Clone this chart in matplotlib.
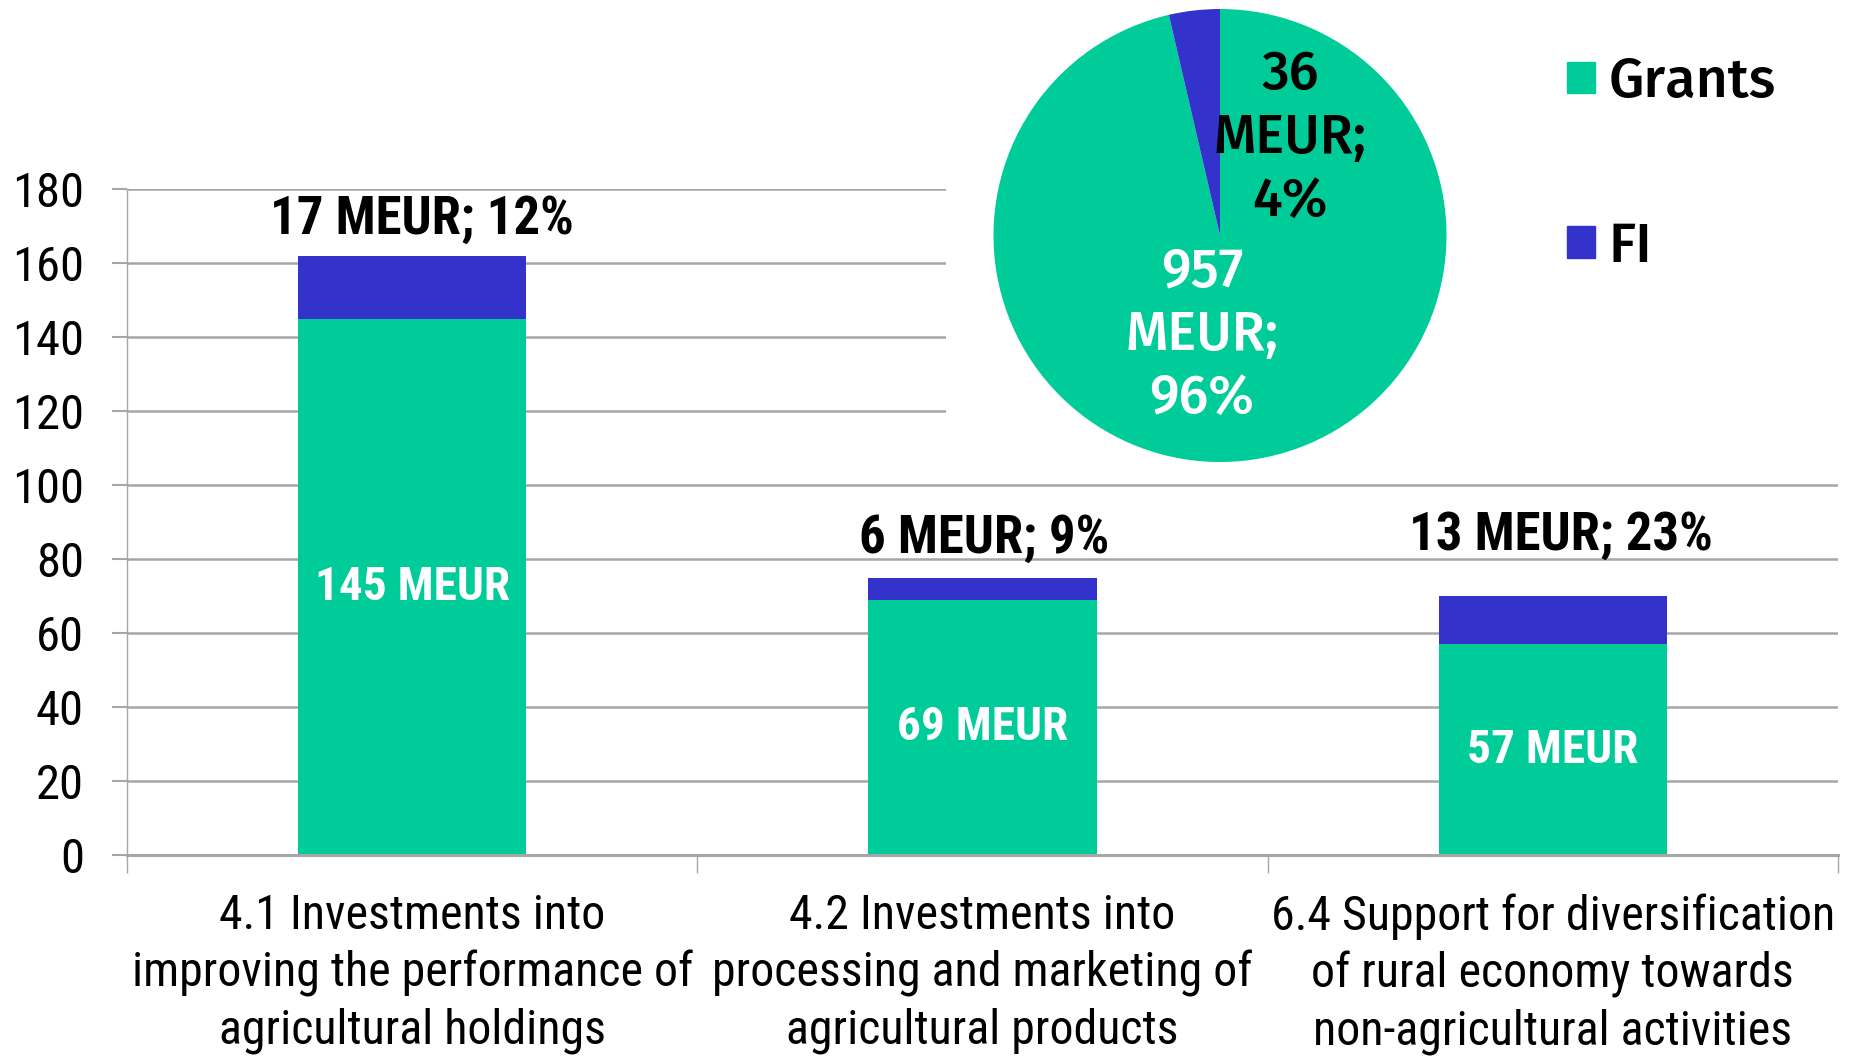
import matplotlib
matplotlib.use("Agg")
import matplotlib.pyplot as plt
from matplotlib.patches import Patch

# bar chart data (MEUR)
categories = ["4.1 Investments into\nimproving the performance of\nagricultural holdings",
              "4.2 Investments into\nprocessing and marketing of\nagricultural products",
              "6.4 Support for diversification\nof rural economy towards\nnon-agricultural activities"]
grants = [145, 69, 57]
fi = [17, 6, 13]
fi_share = [12, 9, 23]

# pie data (MEUR)
pie_names = ["Grants", "FI"]
pie_values = [957, 36]
pie_share = [96, 4]

yticks = [0, 20, 40, 60, 80, 100, 120, 140, 160, 180]

GREEN = "#00CC99"
BLUE = "#3333CC"
GRID = "#A6A6A6"
COND = "Roboto Condensed"
PIEFONT = "Fira Sans"

W, H = 1850, 1056
fig = plt.figure(figsize=(W / 100, H / 100), dpi=100)

# --- stacked bars ---
ax = fig.add_axes([127 / W, 1 - 855 / H, (1838 - 127) / W, (855 - 189) / H])
x = range(len(categories))
ax.bar(x, grants, width=0.4, color=GREEN, zorder=2)
ax.bar(x, fi, width=0.4, bottom=grants, color=BLUE, zorder=2)
ax.set_xlim(-0.5, len(categories) - 0.5)
ax.set_ylim(0, 180)
ax.set_yticks(yticks)
ax.set_yticklabels([str(t) for t in yticks], family=COND, fontsize=35)
ax.tick_params(axis="y", length=11, width=1.5, color=GRID, pad=20)
ax.grid(axis="y", color=GRID, linewidth=1.8, zorder=0)

# category boundaries get the ticks, names sit in the middle
ax.set_xticks([i - 0.5 for i in range(len(categories) + 1)])
ax.set_xticklabels([])
ax.tick_params(axis="x", length=13, width=1, color=GRID)
for i, name in enumerate(categories):
    ax.text(i, -0.057, name, transform=ax.get_xaxis_transform(), ha="center", va="top",
            family=COND, fontsize=34.5, linespacing=1.3)

for side in ["top", "right"]:
    ax.spines[side].set_visible(False)
ax.spines["left"].set_color(GRID)
ax.spines["left"].set_linewidth(1)
ax.spines["bottom"].set_color(GRID)
ax.spines["bottom"].set_linewidth(2.2)

# label nudges (points), as Excel left them
label_offsets = [(7, 26), (1, 28), (6, 44)]
for i in x:
    ax.text(i, grants[i] / 2, f"{grants[i]} MEUR", ha="center", va="center", color="white",
            family=COND, fontweight="bold", fontsize=34, zorder=3)
    ax.annotate(f"{fi[i]} MEUR; {fi_share[i]}%", (i, grants[i] + fi[i]),
                xytext=label_offsets[i], textcoords="offset points",
                ha="center", va="center", family=COND, fontweight="bold", fontsize=38, zorder=3)

# --- white panel behind the pie ---
bg = fig.add_axes([946 / W, 1 - 475 / H, 1 - 946 / W, 475 / H], zorder=2)
bg.set_xticks([])
bg.set_yticks([])
for s in bg.spines.values():
    s.set_visible(False)
bg.set_facecolor("white")

# --- pie ---
pax = fig.add_axes([993 / W, 1 - 462 / H, 454 / W, 453 / H], zorder=3)
pax.pie(pie_values, colors=[GREEN, BLUE], startangle=90, counterclock=False, radius=1.0)
pax.set_xlim(-1.0, 1.0)
pax.set_ylim(-1.0, 1.0)
pax.set_aspect("equal")
pax.text(0.31, 0.43, f"{pie_values[1]}\nMEUR;\n{pie_share[1]}%", ha="center", va="center",
         family=PIEFONT, fontweight="medium", fontsize=39, linespacing=1.25, color="black")
pax.text(-0.08, -0.44, f"{pie_values[0]}\nMEUR;\n{pie_share[0]}%", ha="center", va="center",
         family=PIEFONT, fontweight="medium", fontsize=39, linespacing=1.25, color="white")

handles = [Patch(color=GREEN), Patch(color=BLUE)]
leg = fig.legend(handles, pie_names, loc="upper left", bbox_to_anchor=(1567 / W, 1 - 56 / H),
                 frameon=False, borderpad=0, borderaxespad=0, handlelength=0.5, handleheight=0.5,
                 handletextpad=0.25, labelspacing=2.0,
                 prop={"family": PIEFONT, "weight": "medium", "size": 40})
leg.set_zorder(4)

fig.savefig("out.png", dpi=100)
